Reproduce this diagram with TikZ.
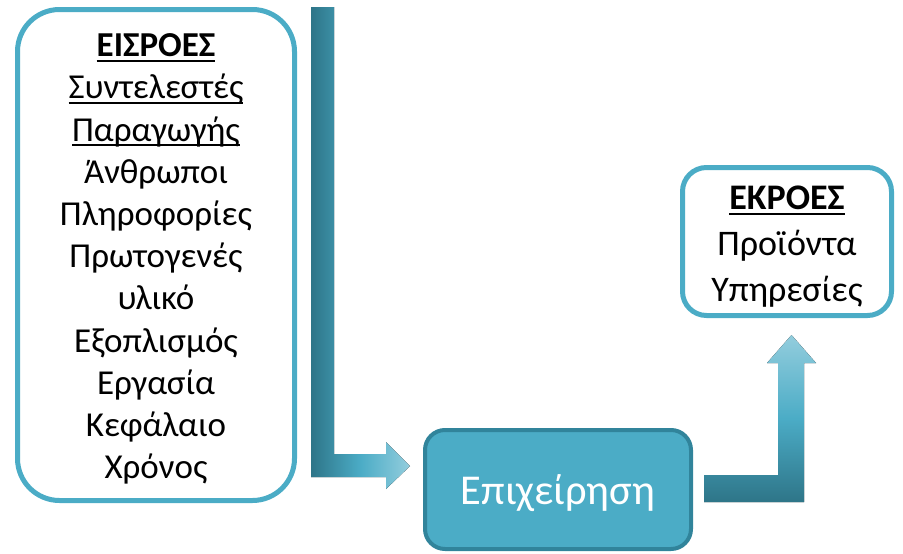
\documentclass[tikz,border=0pt]{standalone}
\usepackage{fontspec}
\setmainfont{Carlito}
\definecolor{accent}{HTML}{4BACC6}
\definecolor{accentdark}{HTML}{31849B}
\definecolor{arrdark}{HTML}{2E7588}
\definecolor{arrlight}{HTML}{93CDDD}
\newcommand\ulx[1]{\setbox0\hbox{#1}\rlap{\rule[-5pt]{\wd0}{1.7pt}}\box0}
\tikzset{
  inbox/.style={draw=accent, line width=5pt, rounded corners=#1, fill=white, align=center, inner sep=0pt},
  corebox/.style={draw=accentdark, line width=4pt, fill=accent, rounded corners=20pt, text=white, inner sep=0pt},
}
\begin{document}
\begin{tikzpicture}[x=1pt,y=-1pt]
\useasboundingbox (0,0) rectangle (903,554);
% left input box
\node[inbox=42pt, minimum width=277pt, minimum height=491pt,
      font=\fontsize{35}{42.2}\selectfont] (inputs) at (156,255)
  {\rule{0pt}{31pt}\ulx{\textbf{ΕΙΣΡΟΕΣ}}\\ \ulx{Συντελεστές}\\ \ulx{Παραγωγής}\\ Άνθρωποι\\ Πληροφορίες\\ Πρωτογενές\\ υλικό\\ Εξοπλισμός\\ Εργασία\\ Κεφάλαιο\\ Χρόνος};
% central box
\node[corebox, minimum width=266pt, minimum height=119pt,
      font=\fontsize{42.5}{48}\selectfont] (firm) at (558,489.5) {\rule{0pt}{38pt}Επιχείρηση};
% output box
\node[inbox=24pt, minimum width=209pt, minimum height=148pt,
      font=\fontsize{36}{46}\selectfont] (outputs) at (787,241.5)
  {\rule{0pt}{34pt}\ulx{\textbf{ΕΚΡΟΕΣ}}\\ Προϊόντα\\ Υπηρεσίες};
% bent arrow into the firm
\coordinate (a1) at (311,7);
\fill[left color=arrdark, right color=arrlight, middle color=accent]
  (a1) -- (334,7) -- (334,454) -- (386,454) -- (386,442) -- (410,466)
  -- (386,489) -- (386,477) -- (311,477) -- cycle;
% bent arrow out of the firm
\coordinate (a2) at (704,475);
\fill[bottom color=arrdark, top color=arrlight, middle color=accent]
  (a2) -- (778,475) -- (778,363) -- (767,363) -- (791.5,335) -- (816,363)
  -- (804,363) -- (804,502) -- (704,502) -- cycle;
\end{tikzpicture}
\end{document}
